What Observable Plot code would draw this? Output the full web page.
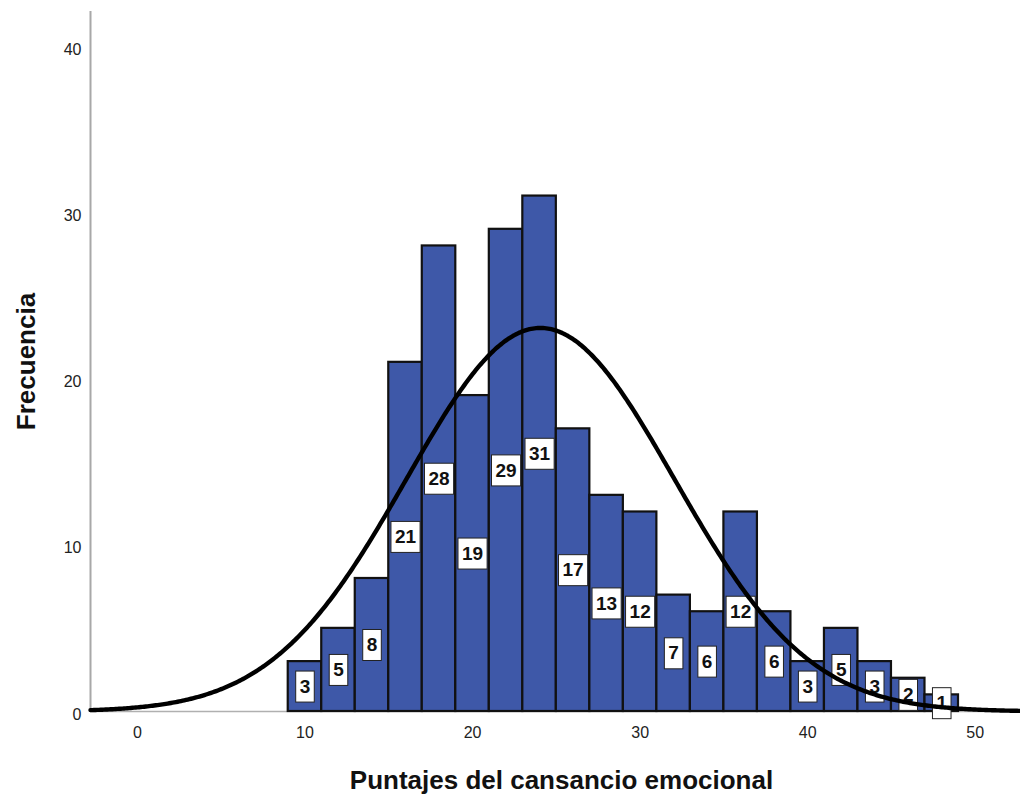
<!DOCTYPE html>
<html>
<head>
<meta charset="utf-8">
<script src="https://cdn.jsdelivr.net/npm/d3@7"></script>
<script src="https://cdn.jsdelivr.net/npm/@observablehq/plot@0.6"></script>
<style>
  html, body { margin: 0; padding: 0; background: #fff; }
</style>
</head>
<body>
<div id="chart"></div>
<script>
// ---- Data ----
const binStarts = [9, 11, 13, 15, 17, 19, 21, 23, 25, 27, 29, 31, 33, 35, 37, 39, 41, 43, 45, 47];
const binWidth = 2;
const counts = [3, 5, 8, 21, 28, 19, 29, 31, 17, 13, 12, 7, 6, 12, 6, 3, 5, 3, 2, 1];
const xTicks = [0, 10, 20, 30, 40, 50];
const yTicks = [0, 10, 20, 30, 40];
const fitMean = 24.05;   // mean of the fitted normal curve (read from the peak)
const fitSD = 7.99;      // sd of the fitted normal curve
const xTitle = "Puntajes del cansancio emocional";
const yTitle = "Frecuencia";
const xDomain = [-2.8, 52.7];
const yDomain = [0, 42.1];

// ---- Derived tables ----
const nTotal = d3.sum(counts);
const bins = binStarts.map((s, i) => ({x1: s, x2: s + binWidth, mid: s + binWidth / 2, count: counts[i]}));
const peak = nTotal * binWidth / (fitSD * Math.sqrt(2 * Math.PI));
const curve = d3.range(xDomain[0], xDomain[1] + 1e-9, 0.1)
  .map(x => ({x, y: peak * Math.exp(-0.5 * ((x - fitMean) / fitSD) ** 2)}));

const fontFamily = "'Liberation Sans', Arial, Helvetica, sans-serif";
const labelFont = `bold 19px ${fontFamily}`;

function boxedText(index, scales, values, dimensions, context, next) {
  const g = next(index, scales, values, dimensions, context);
  const measure = document.createElement("canvas").getContext("2d");
  measure.font = labelFont;
  const ns = "http://www.w3.org/2000/svg";
  const boxes = document.createElementNS(ns, "g");
  for (const i of index) {
    const txt = String(bins[i].count);
    const w = measure.measureText(txt).width + 8;
    const h = 31;
    const r = document.createElementNS(ns, "rect");
    r.setAttribute("x", values.x[i] - w / 2);
    r.setAttribute("y", values.y[i] - h / 2);
    r.setAttribute("width", w);
    r.setAttribute("height", h);
    r.setAttribute("fill", "#fff");
    r.setAttribute("stroke", "#222");
    r.setAttribute("stroke-width", 1);
    boxes.appendChild(r);
  }
  g.insertBefore(boxes, g.firstChild);
  return g;
}

const chart = Plot.plot({
  width: 1020,
  height: 797,
  marginLeft: 90,
  marginRight: 0,
  marginTop: 11,
  marginBottom: 86,
  style: {fontFamily, fontSize: "16px", background: "#fff", color: "#222"},
  x: {domain: xDomain, axis: null},
  y: {domain: yDomain, axis: null},
  marks: [
    Plot.ruleY([0], {stroke: "#b0b0b0", strokeWidth: 1.5}),
    Plot.ruleX([xDomain[0]], {stroke: "#a8a8a8", strokeWidth: 2}),
    Plot.rectY(bins, {x1: "x1", x2: "x2", y1: 0, y2: "count", fill: "#3e58a8", stroke: "#111", strokeWidth: 2.2, inset: 0}),
    Plot.text(bins, {
      x: "mid", y: d => d.count / 2, text: d => String(d.count),
      fontSize: 19, fontWeight: "bold", fill: "#111",
      textAnchor: "middle", lineAnchor: "middle",
      render: boxedText
    }),
    Plot.line(curve, {x: "x", y: "y", stroke: "#000", strokeWidth: 4.4, curve: "linear"}),
    Plot.axisX(xTicks, {tickSize: 0, tickPadding: 15, label: null, fontSize: 16, color: "#222"}),
    Plot.axisY(yTicks, {tickSize: 0, tickPadding: 9, dy: 3, label: null, fontSize: 16, color: "#222"}),
    Plot.text([xTitle], {text: d => d, frameAnchor: "bottom", lineAnchor: "middle", textAnchor: "middle", dy: 69, dx: 6, fontSize: 26, fontWeight: "bold", fill: "#111"}),
    Plot.text([yTitle], {text: d => d, frameAnchor: "left", lineAnchor: "middle", textAnchor: "middle", rotate: -90, dx: -64, fontSize: 26, fontWeight: "bold", fill: "#111"})
  ]
});
document.getElementById("chart").appendChild(chart);
</script>
</body>
</html>
